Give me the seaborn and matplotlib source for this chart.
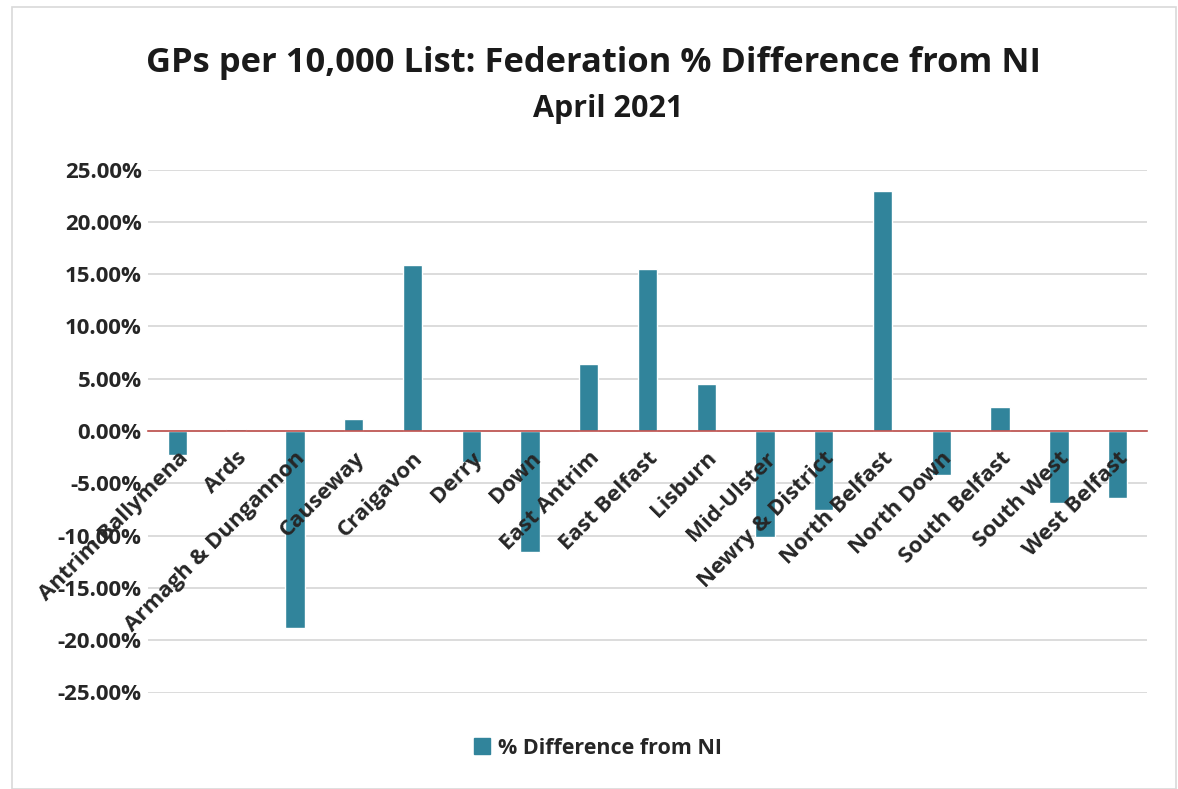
import matplotlib
matplotlib.use("Agg")
import matplotlib.pyplot as plt
import seaborn as sns
import pandas as pd
from matplotlib.ticker import FuncFormatter, MultipleLocator
from matplotlib.patches import Rectangle, Patch

categories = ["Antrim Ballymena", "Ards", "Armagh & Dungannon", "Causeway", "Craigavon",
              "Derry", "Down", "East Antrim", "East Belfast", "Lisburn", "Mid-Ulster",
              "Newry & District", "North Belfast", "North Down", "South Belfast",
              "South West", "West Belfast"]
values = [-2.3, 0.2, -18.8, 1.1, 15.9, -3.0, -11.6, 6.4, 15.5, 4.5, -10.1, -7.6,
          22.9, -4.2, 2.3, -6.9, -6.4]
series_name = "% Difference from NI"
title_lines = ["GPs per 10,000 List: Federation % Difference from NI", "April 2021"]

BAR = "#31849B"
FONT = "Open Sans"

sns.set_theme(style="white")
plt.rcParams["font.family"] = [FONT, "DejaVu Sans"]

df = pd.DataFrame({"Federation": categories, "Value": values})

fig = plt.figure(figsize=(11.78, 7.89), dpi=100)
ax = fig.add_axes([148 / 1178, 1 - 692.5 / 789, 999 / 1178, 523 / 789])

sns.barplot(data=df, x="Federation", y="Value", color=BAR, width=0.33,
            saturation=1, ax=ax, zorder=3)

ax.set_ylim(-25, 25)
ax.set_xlim(-0.5, len(categories) - 0.5)
ax.yaxis.set_major_locator(MultipleLocator(5))
ax.yaxis.set_major_formatter(FuncFormatter(lambda v, p: f"{v:.2f}%"))
ax.grid(axis="y", color="#D9D9D9", linewidth=1.3, zorder=0)
ax.set_axisbelow(True)

for s in ["top", "right", "left"]:
    ax.spines[s].set_visible(False)
ax.spines["bottom"].set_position(("data", 0))
ax.spines["bottom"].set_color("#C0504D")
ax.spines["bottom"].set_linewidth(1.2)
ax.spines["bottom"].set_zorder(4)
ax.xaxis.set_zorder(6)

ax.set_xlabel("")
ax.set_ylabel("")
ax.tick_params(axis="y", length=0, pad=4.5, labelsize=16)
ax.tick_params(axis="x", length=0, pad=12, labelsize=16)
for lab in ax.get_yticklabels():
    lab.set_fontweight("bold")
    lab.set_color("#262626")
ax.set_xticks(range(len(categories)))
ax.set_xticklabels(categories, rotation=45, ha="right", rotation_mode="anchor",
                   fontweight="bold", color="#262626", fontsize=16)

fig.text(594 / 1178, 1 - 63 / 789, title_lines[0], ha="center", va="center",
         fontsize=24.8, fontweight="bold", color="#1a1a1a")
fig.text(608 / 1178, 1 - 109 / 789, title_lines[1], ha="center", va="center",
         fontsize=22, fontweight="bold", color="#1a1a1a")

handle = Patch(facecolor=BAR, edgecolor=BAR)
fig.legend([handle], [series_name], loc="center", bbox_to_anchor=(598 / 1178, 1 - 748 / 789),
           frameon=False, prop={"family": FONT, "weight": "bold", "size": 15.5},
           handlelength=0.75, handleheight=0.75, handletextpad=0.35)

fig.patches.append(Rectangle((12 / 1178, 0), 1164 / 1178, 1 - 7 / 789,
                             transform=fig.transFigure, fill=False,
                             edgecolor="#D9D9D9", linewidth=1.2))

fig.savefig("out.png", dpi=100)
